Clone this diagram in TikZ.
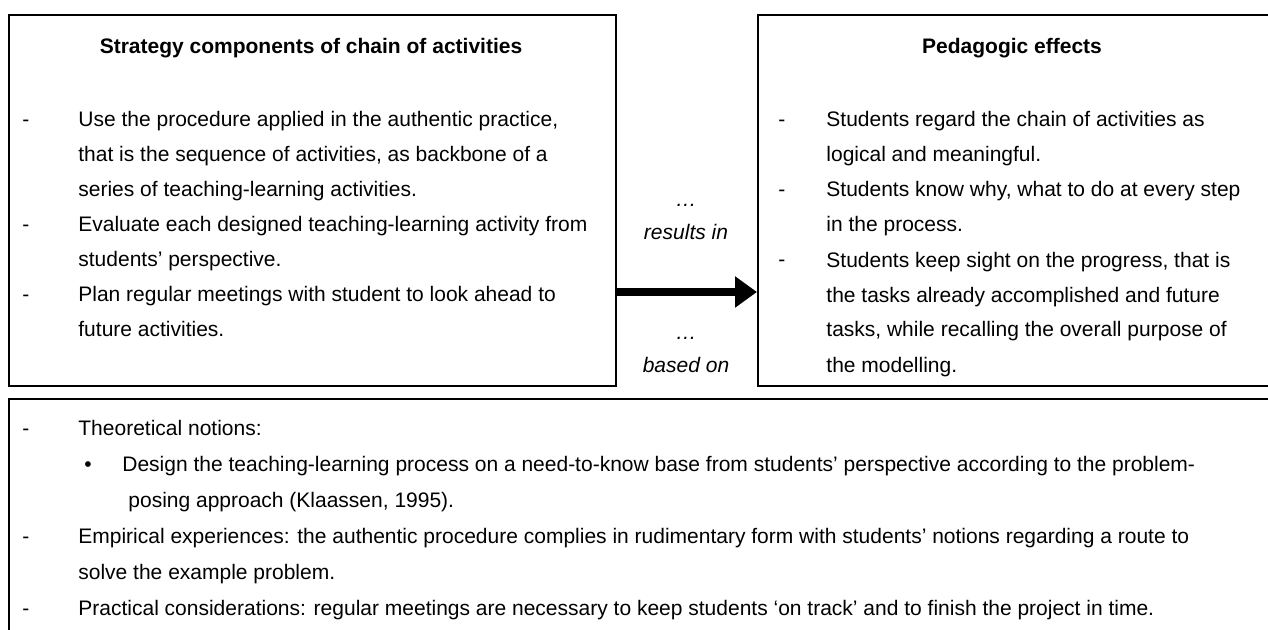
\documentclass[tikz,border=0pt]{standalone}
\usepackage{fontspec}
\setmainfont{Liberation Sans}
\usetikzlibrary{positioning, arrows.meta}
\tikzset{
    panel/.style={draw, line width=1pt, anchor=north west, inner sep=0pt},
    heading/.style={anchor=base, inner sep=0pt, font=\bfseries\fontsize{10.5}{17.5}\selectfont},
    dashsign/.style={anchor=base west, inner sep=0pt, font=\fontsize{10.5}{17.5}\selectfont},
    itemtext/.style={anchor=base west, inner sep=0pt, align=left, font=\fontsize{10.5}{17.5}\selectfont},
    lowtext/.style={itemtext, font=\fontsize{10.5}{18}\selectfont},
    linklabel/.style={anchor=base, inner sep=0pt, align=center, font=\itshape\fontsize{10.5}{16.5}\selectfont},
    flow/.style={line width=4pt, -{Triangle[length=11pt, width=15pt]}}
}

\begin{document}
\begin{tikzpicture}[x=0.5pt, y=-0.5pt]
    \useasboundingbox (0,0) rectangle (1268,630);
    \clip (0,0) rectangle (1268,630);

    % frames
    \node[panel, minimum width=303.5pt, minimum height=185.5pt] (strat) at (8,14) {};
    \node[panel, minimum width=257.5pt, minimum height=185.5pt] (effects) at (757,14) {};
    \node[panel, minimum width=632pt, minimum height=125pt] (basis) at (8,398) {};

    % left frame (multi-line texts sit on their last baseline)
    \node[heading] (strathead) at (311,54) {Strategy components of chain of activities};
    \node[dashsign] (sd1) at (22,127) {-};
    \node[itemtext] (si1) at (78,197) {Use the procedure applied in the authentic practice,\\
        that is the sequence of activities, as backbone of a\\
        series of teaching-learning activities.};
    \node[dashsign] (sd2) at (22,232) {-};
    \node[itemtext] (si2) at (78,267) {Evaluate each designed teaching-learning activity from\\
        students’ perspective.};
    \node[dashsign] (sd3) at (22,302) {-};
    \node[itemtext] (si3) at (78,337) {Plan regular meetings with student to look ahead to\\
        future activities.};

    % right frame
    \node[heading] (effhead) at (1012,54) {Pedagogic effects};
    \node[dashsign] (ed1) at (778,127) {-};
    \node[itemtext] (ei1) at (826,162) {Students regard the chain of activities as\\
        logical and meaningful.};
    \node[dashsign] (ed2) at (778,197) {-};
    \node[itemtext] (ei2) at (826,232) {Students know why, what to do at every step\\
        in the process.};
    \node[dashsign] (ed3) at (778,267) {-};
    \node[itemtext] (ei3) at (826,372) {Students keep sight on the progress, that is\\
        the tasks already accomplished and future\\
        tasks, while recalling the overall purpose of\\
        the modelling.};

    % link between frames
    \node[linklabel] (resultsin) at (686,240) {…\\results in};
    \node[linklabel] (basedon) at (686,372) {…\\based on};
    \coordinate (flowy) at (0,292);
    \draw[flow] (strat.east |- flowy) -- (effects.west |- flowy);

    % lower frame
    \node[dashsign] (bd1) at (22,435) {-};
    \node[lowtext] (bi1) at (78,435) {Theoretical notions:};
    \node[dashsign] (bb1) at (84,471) {\textbullet};
    \node[lowtext] (bt1) at (122,507) {Design the teaching-learning process on a need-to-know base from students’ perspective according to the problem-\\
        \hspace*{3pt}posing approach (Klaassen, 1995).};
    \node[dashsign] (bd2) at (22,543) {-};
    \node[lowtext] (bi2) at (78,579) {Empirical experiences: the authentic procedure complies in rudimentary form with students’ notions regarding a route to\\
        solve the example problem.};
    \node[dashsign] (bd3) at (22,615) {-};
    \node[lowtext] (bi3) at (78,615) {Practical considerations: regular meetings are necessary to keep students ‘on track’ and to finish the project in time.};
\end{tikzpicture}
\end{document}
